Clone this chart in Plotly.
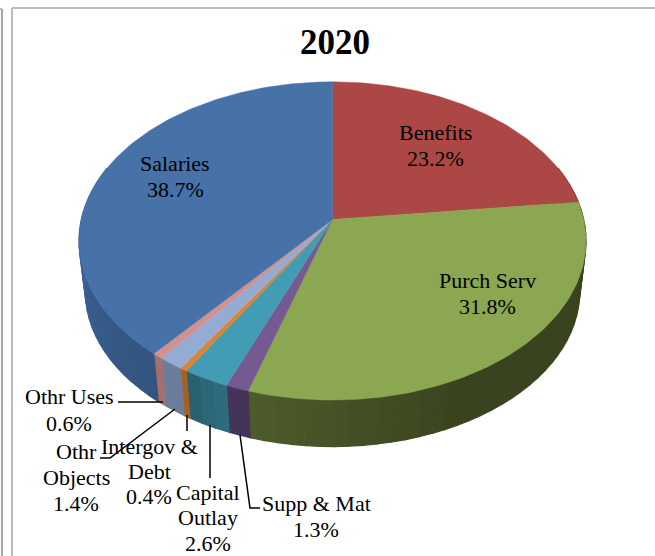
import math
import plotly.graph_objects as go

# ---- data ----
categories = ["Benefits", "Purch Serv", "Supp & Mat", "Capital Outlay", "Intergov & Debt",
              "Othr Objects", "Othr Uses", "Salaries"]
shares = [23.2, 31.8, 1.3, 2.6, 0.4, 1.4, 0.6, 38.7]
top_colors = ["#AB4744", "#8BA751", "#755A92", "#429CB4", "#E08331", "#94ABD3", "#D09290", "#4672A8"]
wall_start = ["#6B2C2A", "#3A431F", "#4A3860", "#2F6F80", "#A8601F", "#6F809E", "#A87472", "#33557F"]
wall_end = ["#6B2C2A", "#4E5C2B", "#403154", "#2A5F6E", "#A8601F", "#6A7A98", "#A06C6C", "#4069A0"]
title_text = "2020"

# ---- projection of the tilted disc ----
CX, TOP_Y, BOT_Y = 332.5, 219.5, 270.5
G, F, P = 251.2, 156.2, 0.1348
S = 0.975
WARP_START = math.radians(83.5)
WARP_SIZE = math.radians(1.05)


def warp(theta):
    # small perspective correction of the wedge angles on the near side
    if theta <= WARP_START:
        return theta
    u = (theta - WARP_START) / (2 * math.pi - WARP_START)
    return theta - WARP_SIZE * math.sin(u * math.pi) ** 2


def project(theta, base_y, scale):
    X, Y = math.sin(theta), math.cos(theta)
    d = 1 + P * Y
    return CX + scale * G * X / d, base_y - scale * F * Y / d


def arc(a0, a1, base_y, scale):
    n = max(2, int(abs(a1 - a0) / 0.02))
    return [project(a0 + (a1 - a0) * i / n, base_y, scale) for i in range(n + 1)]


def mix(c0, c1, t):
    a = [int(c0[i:i + 2], 16) for i in (1, 3, 5)]
    b = [int(c1[i:i + 2], 16) for i in (1, 3, 5)]
    return "rgb(%d,%d,%d)" % tuple(int(p + (q - p) * t) for p, q in zip(a, b))


fig = go.Figure()


def poly(pts, color, w=0.5):
    fig.add_trace(go.Scatter(x=[p[0] for p in pts] + [pts[0][0]], y=[p[1] for p in pts] + [pts[0][1]],
                             mode="lines", fill="toself", fillcolor=color,
                             line=dict(color=color, width=w), hoverinfo="skip", showlegend=False))


def line(xs, ys, color="black", width=1.5):
    fig.add_trace(go.Scatter(x=xs, y=ys, mode="lines", line=dict(color=color, width=width),
                             hoverinfo="skip", showlegend=False))


edges = [0.0]
running = 0.0
for v in shares:
    running += v / sum(shares) * 2 * math.pi
    edges.append(warp(running))

# walls, split into strips for the gradient
for i in range(len(shares)):
    a0, a1 = edges[i], edges[i + 1]
    # only the front part of the rim is ever visible
    a0c, a1c = max(a0, math.radians(70)), min(a1, math.radians(290))
    if a1c <= a0c:
        continue
    n = max(1, int((a1c - a0c) / 0.05))
    for k in range(n):
        t0 = a0c + (a1c - a0c) * k / n
        t1 = a0c + (a1c - a0c) * (k + 1) / n
        frac = (k + 0.5) / n
        if i == 1:  # the green wall only lightens on its last stretch
            frac = max(0.0, (frac - 0.6) / 0.4)
        poly(arc(t0, t1, TOP_Y, 1.0) + arc(t1, t0, BOT_Y, S), mix(wall_start[i], wall_end[i], frac), 1.2)

# top surface
for i, col in enumerate(top_colors):
    poly([(CX, TOP_Y)] + arc(edges[i], edges[i + 1], TOP_Y, 1.0), col)

# leader lines
line([118, 163], [402, 402])
line([100, 110, 175], [458, 458, 409])
line([187, 187], [415, 431])
line([210, 210], [425, 478])
line([240, 250, 260], [435, 508, 508])

# frame
line([12, 12], [556, 8], "#A6A6A6", 1.5)
line([12, 655], [8, 8], "#A6A6A6", 1.5)
line([2, 2], [556, 9], "#A6A6A6", 2)
line([0, 2], [9, 9], "#A6A6A6", 1.5)

labels = [
    ("Benefits", 435.5, 132), ("23.2%", 435.5, 158),
    ("Purch Serv", 487, 280), ("31.8%", 487, 306),
    ("Salaries", 175, 163), ("38.7%", 175, 189),
    ("Othr Uses", 69, 396), ("0.6%", 69, 423),
    ("Othr", 76, 451), ("Objects", 76, 477), ("1.4%", 76, 503),
    ("Intergov &", 149, 446), ("Debt", 149, 471), ("0.4%", 149, 496),
    ("Capital", 208, 492), ("Outlay", 208, 517), ("2.6%", 208, 543),
    ("Supp & Mat", 316, 503), ("1.3%", 316, 529),
]
annotations = [dict(x=x, y=y, text=t, showarrow=False, xanchor="center", yanchor="middle",
                    font=dict(family="Liberation Serif", size=22, color="black"))
               for t, x, y in labels]
annotations.append(dict(x=335, y=42, text="<b>%s</b>" % title_text, showarrow=False,
                        font=dict(family="Liberation Serif", size=35, color="black")))

fig.update_layout(
    width=655, height=556, margin=dict(l=0, r=0, t=0, b=0), autosize=False,
    paper_bgcolor="white", plot_bgcolor="white", showlegend=False,
    xaxis=dict(range=[0, 655], visible=False, fixedrange=True),
    yaxis=dict(range=[556, 0], visible=False, fixedrange=True),
    annotations=annotations,
)
fig.write_html("out.html", config={"displayModeBar": False},
               post_script="document.body.style.margin='0';document.documentElement.style.overflow='hidden';")
